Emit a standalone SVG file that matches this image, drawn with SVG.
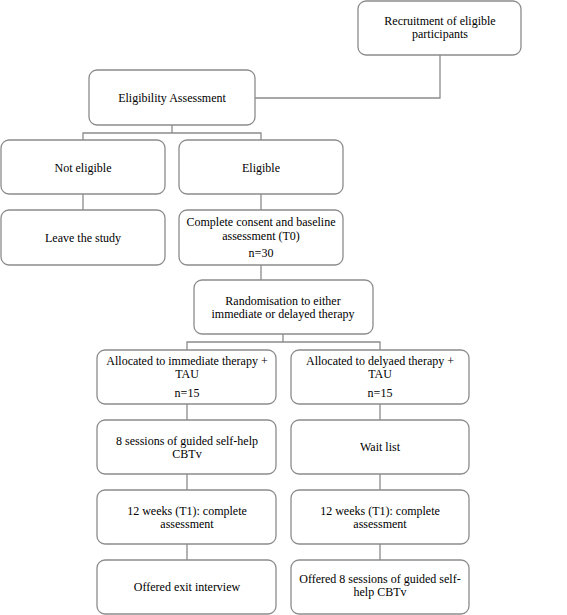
<svg xmlns="http://www.w3.org/2000/svg" width="567" height="615" viewBox="0 0 567 615">
<style>
.box{fill:#fff;stroke:#8c8c8c;stroke-width:1.3}
text{font-family:'Liberation Serif','DejaVu Serif',serif;font-size:12px;fill:#000;text-anchor:middle}
.c{fill:none;stroke:#8c8c8c;stroke-width:1.3}
</style>
<rect width="567" height="615" fill="#fff"/>
<g id="connectors">
<path class="c" d="M440,55 V98 H255"/>
<path class="c" d="M172,125 V133 M83,140 V133 H261 V140"/>
<path class="c" d="M83,194 V210 M261,194 V210 M261,265 V280"/>
<path class="c" d="M283,334 V342 M187,350 V342 H380 V350"/>
<path class="c" d="M187,404 V420 M187,474 V490 M187,544 V560"/>
<path class="c" d="M380,404 V420 M380,474 V490 M380,544 V560"/>
</g>
<g id="recruitment"><rect class="box" x="358" y="1" width="163" height="54" rx="8"/><text x="440" y="25">Recruitment of eligible</text><text x="440" y="38">participants</text></g>
<g id="eligibility"><rect class="box" x="89" y="70" width="166" height="55" rx="8"/><text x="172" y="102">Eligibility Assessment</text></g>
<g id="noteligible"><rect class="box" x="1" y="140" width="164" height="54" rx="8"/><text x="83" y="172">Not eligible</text></g>
<g id="eligible"><rect class="box" x="179" y="140" width="164" height="54" rx="8"/><text x="261" y="172">Eligible</text></g>
<g id="leave"><rect class="box" x="1" y="210" width="164" height="55" rx="8"/><text x="83" y="242">Leave the study</text></g>
<g id="consent"><rect class="box" x="179" y="210" width="164" height="55" rx="8"/><text x="261" y="226">Complete consent and baseline</text><text x="261" y="240">assessment (T0)</text><text x="261" y="257">n=30</text></g>
<g id="randomisation"><rect class="box" x="194" y="280" width="179" height="54" rx="8"/><text x="283" y="305">Randomisation to either</text><text x="283" y="318">immediate or delayed therapy</text></g>
<g id="immediate"><rect class="box" x="97" y="350" width="179" height="54" rx="8"/><text x="187" y="365">Allocated to immediate therapy +</text><text x="187" y="378">TAU</text><text x="187" y="397">n=15</text></g>
<g id="delayed"><rect class="box" x="291" y="350" width="178" height="54" rx="8"/><text x="380" y="365">Allocated to delyaed therapy +</text><text x="380" y="378">TAU</text><text x="380" y="397">n=15</text></g>
<g id="sessions"><rect class="box" x="97" y="420" width="179" height="54" rx="8"/><text x="187" y="445">8 sessions of guided self-help</text><text x="187" y="458">CBTv</text></g>
<g id="waitlist"><rect class="box" x="291" y="420" width="178" height="54" rx="8"/><text x="380" y="451">Wait list</text></g>
<g id="weeks1"><rect class="box" x="97" y="490" width="179" height="54" rx="8"/><text x="187" y="515">12 weeks (T1): complete</text><text x="187" y="528">assessment</text></g>
<g id="weeks2"><rect class="box" x="291" y="490" width="178" height="54" rx="8"/><text x="380" y="515">12 weeks (T1): complete</text><text x="380" y="528">assessment</text></g>
<g id="exit"><rect class="box" x="97" y="560" width="179" height="54" rx="8"/><text x="187" y="591">Offered exit interview</text></g>
<g id="offered"><rect class="box" x="291" y="560" width="178" height="54" rx="8"/><text x="380" y="583">Offered 8 sessions of guided self-</text><text x="380" y="596">help CBTv</text></g>
</svg>
